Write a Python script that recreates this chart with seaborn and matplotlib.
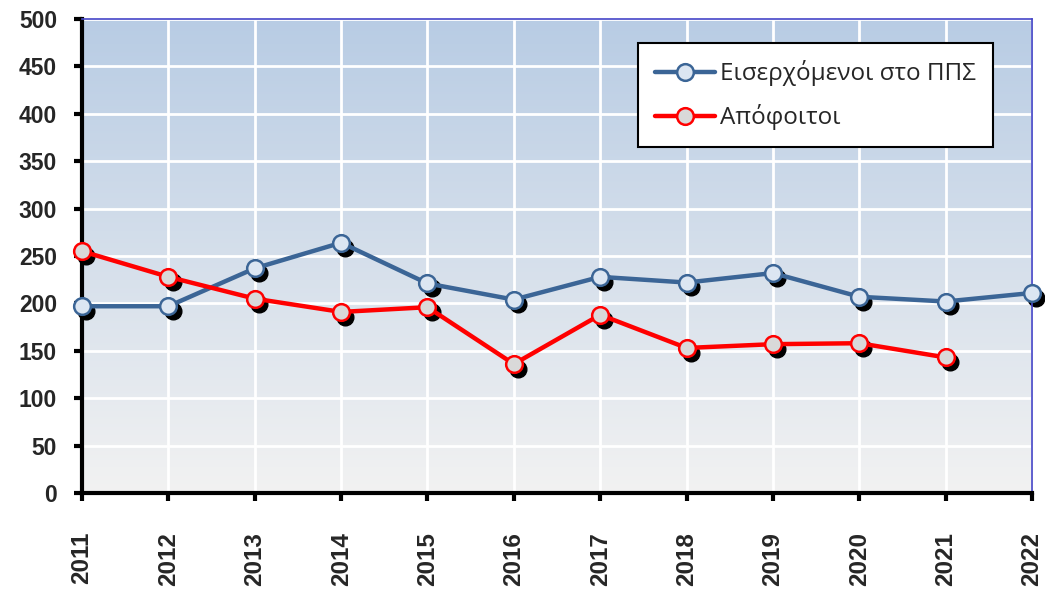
import numpy as np
import pandas as pd
import matplotlib
matplotlib.use("Agg")
import matplotlib.pyplot as plt
import matplotlib.transforms as mtransforms
from matplotlib.colors import LinearSegmentedColormap
import seaborn as sns

# Data
years = [2011, 2012, 2013, 2014, 2015, 2016, 2017, 2018, 2019, 2020, 2021, 2022]
incoming = [197, 197, 237, 264, 221, 204, 228, 222, 232, 207, 202, 211]
graduates = [255, 228, 205, 191, 196, 136, 188, 153, 157, 158, 143]

incoming_label = "Εισερχόμενοι στο ΠΠΣ"
graduates_label = "Απόφοιτοι"

sns.set_style("white")
plt.rcParams['font.family'] = ['Liberation Sans', 'DejaVu Sans']

fig = plt.figure(figsize=(10.45, 5.9), dpi=100)
ax = fig.add_axes([0.0785, 0.1644, 0.9091, 0.8034])

# gradient background (light blue on top -> light grey at bottom)
cmap = LinearSegmentedColormap.from_list("bg", ["#f2f2f2", "#b8cce4"])
grad = np.linspace(0, 1, 256).reshape(-1, 1)
ax.imshow(grad, cmap=cmap, origin="lower", aspect="auto",
          extent=[0, 1, 0, 1], transform=ax.transAxes, zorder=0)

df_in = pd.DataFrame({"year": years, "value": incoming})
df_gr = pd.DataFrame({"year": years[:len(graduates)], "value": graduates})

series = [
    (df_in, incoming_label, "#3b6596", "#dce6f2"),
    (df_gr, graduates_label, "#ff0000", "#d9d9d9"),
]

shadow = ax.transData + mtransforms.ScaledTranslation(3 / 72, -3.5 / 72, fig.dpi_scale_trans)

for df, label, color, face in series:
    sns.lineplot(data=df, x="year", y="value", ax=ax, color=color, lw=3.2,
                 label=label, marker="o", markersize=12, markerfacecolor=face,
                 markeredgecolor=color, markeredgewidth=1.8, zorder=3,
                 clip_on=False)
    ax.plot(df["year"], df["value"], ls="none", marker="o", markersize=12,
            color="black", transform=shadow, zorder=2.5, clip_on=False)

ax.set_xlim(2011, 2022)
ax.set_ylim(0, 500)
ax.set_xticks(years)
ax.set_yticks(range(0, 501, 50))
ax.set_xlabel("")
ax.set_ylabel("")

ax.set_axisbelow(True)
ax.grid(True, color="white", lw=2)

for lab in ax.get_xticklabels():
    lab.set_rotation(90)
ax.tick_params(axis="x", labelsize=17.5, length=6, width=3, direction="out",
               color="black", pad=22, bottom=True)
ax.tick_params(axis="y", labelsize=16.5, length=6, width=3, direction="out",
               color="black", pad=12, left=True)
for lab in ax.get_xticklabels() + ax.get_yticklabels():
    lab.set_fontweight("bold")

for side in ["left", "bottom"]:
    ax.spines[side].set_color("black")
    ax.spines[side].set_linewidth(3)
for side in ["top", "right"]:
    ax.spines[side].set_color("#4646c8")
    ax.spines[side].set_linewidth(1.2)

leg = ax.legend(loc="upper right", bbox_to_anchor=(0.959, 0.949), frameon=True,
                fancybox=False, framealpha=1, edgecolor="black",
                prop={"family": ["Open Sans", "DejaVu Sans"], "size": 17.5},
                handlelength=2.5, borderpad=0.7, labelspacing=0.75,
                handletextpad=0.2, borderaxespad=0)
leg.get_frame().set_linewidth(1.5)

fig.savefig("out.png", dpi=100)
